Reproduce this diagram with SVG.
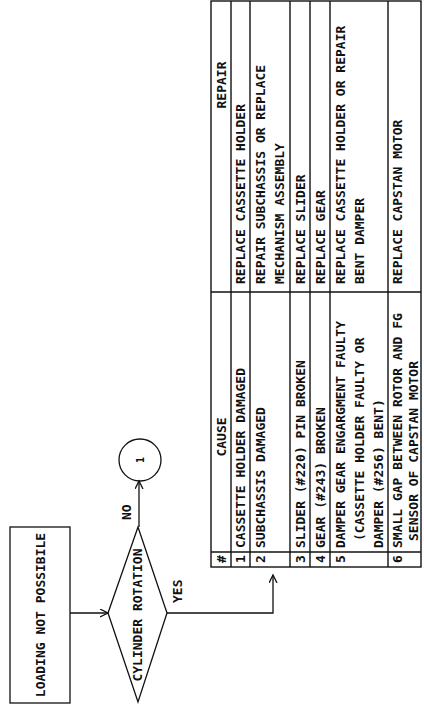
<svg xmlns="http://www.w3.org/2000/svg" width="424" height="707" viewBox="0 0 424 707">
<defs>
<style>
.ln{fill:none;stroke:#111;stroke-width:1.3}
.tb{fill:none;stroke:#111;stroke-width:1.4}
.t{font-family:"DejaVu Sans Mono","Liberation Mono",monospace;font-weight:bold;font-size:13px;fill:#111}
.m{text-anchor:middle}
</style>
<marker id="ah" markerWidth="10" markerHeight="10" refX="8" refY="4" orient="auto" markerUnits="userSpaceOnUse">
<path d="M0,0 L8,4 L0,8" fill="none" stroke="#111" stroke-width="1.3"/>
</marker>
</defs>
<rect width="424" height="707" fill="#fff"/>
<g transform="translate(0,707) rotate(-90)">
<g id="start">
<rect class="ln" x="4" y="10" width="176" height="60"/>
<text class="t m" x="92" y="45">LOADING NOT POSSIBILE</text>
</g>
<g id="decision">
<polygon class="ln" points="94,108 180,138 94,167 5,138"/>
<text class="t m" x="92" y="142">CYLINDER ROTATION</text>
</g>
<g id="connector1">
<circle class="ln" cx="247" cy="140" r="21"/>
<text class="t m" x="247" y="144" style="font-size:10px">1</text>
</g>
<g id="connectors">
<line class="ln" x1="94" y1="70" x2="94" y2="108" marker-end="url(#ah)"/>
<line class="ln" x1="180" y1="139" x2="226" y2="139" marker-end="url(#ah)"/>
<polyline class="ln" points="94,167 94,273 132,273" marker-end="url(#ah)"/>
<text class="t" x="187" y="131">NO</text>
<text class="t" x="104" y="182">YES</text>
</g>
<g id="table">
<rect class="tb" x="140" y="211" width="566" height="210"/>
<line class="tb" x1="140" y1="231" x2="706" y2="231"/>
<line class="tb" x1="140" y1="250" x2="706" y2="250"/>
<line class="tb" x1="140" y1="290" x2="706" y2="290"/>
<line class="tb" x1="140" y1="310" x2="706" y2="310"/>
<line class="tb" x1="140" y1="330" x2="706" y2="330"/>
<line class="tb" x1="140" y1="388" x2="706" y2="388"/>
<line class="tb" x1="155" y1="211" x2="155" y2="421"/>
<line class="tb" x1="415" y1="211" x2="415" y2="421"/>
<text class="t m" x="148" y="226">#</text>
<text class="t m" x="270" y="226">CAUSE</text>
<text class="t m" x="622" y="226">REPAIR</text>
<text class="t m" x="148" y="245">1</text>
<text class="t m" x="148" y="265">2</text>
<text class="t m" x="148" y="305">3</text>
<text class="t m" x="148" y="325">4</text>
<text class="t m" x="148" y="345">5</text>
<text class="t m" x="148" y="402">6</text>
<text class="t" x="159" y="245">CASSETTE HOLDER DAMAGED</text>
<text class="t" x="159" y="265">SUBCHASSIS DAMAGED</text>
<text class="t" x="159" y="305">SLIDER (#220) PIN BROKEN</text>
<text class="t" x="159" y="325">GEAR (#243) BROKEN</text>
<text class="t" x="159" y="345">DAMPER GEAR ENGARGMENT FAULTY</text>
<text class="t" x="166" y="364">(CASSETTE HOLDER FAULTY OR</text>
<text class="t" x="159" y="383">DAMPER (#256) BENT)</text>
<text class="t" x="159" y="402">SMALL GAP BETWEEN ROTOR AND FG</text>
<text class="t" x="166" y="418">SENSOR OF CAPSTAN MOTOR</text>
<text class="t" x="423" y="245">REPLACE CASSETTE HOLDER</text>
<text class="t" x="423" y="265">REPAIR SUBCHASSIS OR REPLACE</text>
<text class="t" x="423" y="284">MECHANISM ASSEMBLY</text>
<text class="t" x="423" y="305">REPLACE SLIDER</text>
<text class="t" x="423" y="325">REPLACE GEAR</text>
<text class="t" x="423" y="345">REPLACE CASSETTE HOLDER OR REPAIR</text>
<text class="t" x="423" y="364">BENT DAMPER</text>
<text class="t" x="423" y="402">REPLACE CAPSTAN MOTOR</text>
</g>
</g>
</svg>
